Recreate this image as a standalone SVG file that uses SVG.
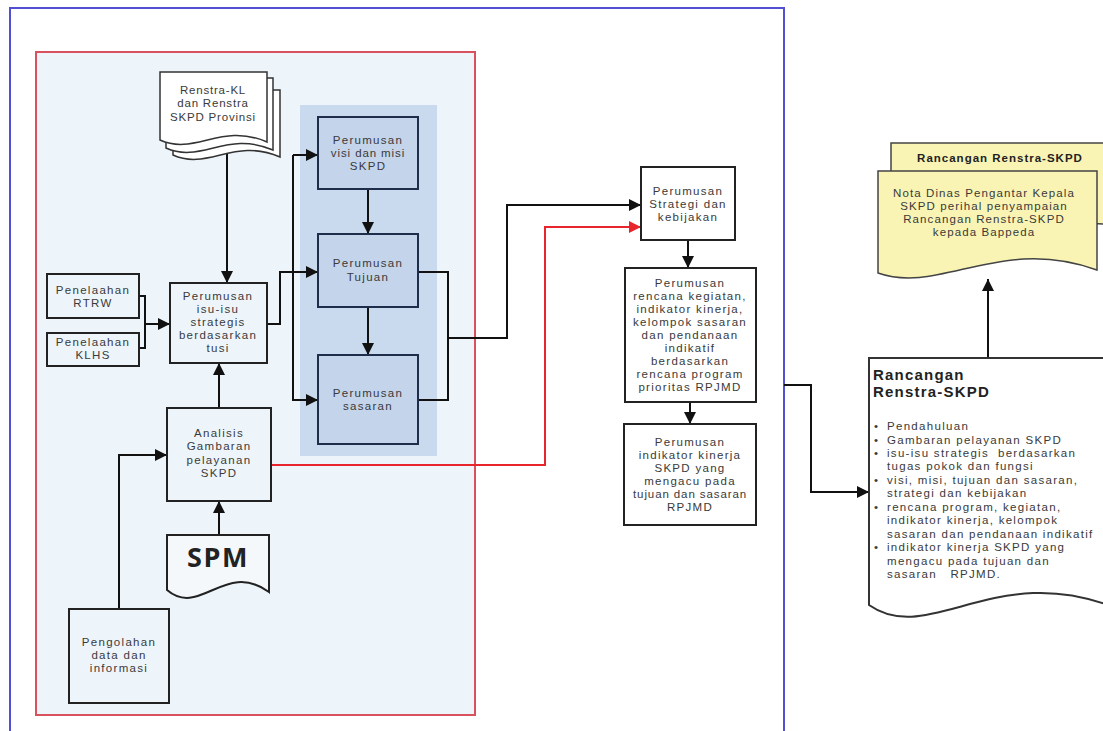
<svg xmlns="http://www.w3.org/2000/svg" width="1103" height="731" viewBox="0 0 1103 731">
<defs>
<style>
.box{fill:#eef5fa;stroke:#222;stroke-width:2}
.pbox{fill:#c4d4ea;stroke:#1e2d4a;stroke-width:2}
.wbox{fill:#fff;stroke:#222;stroke-width:2}
.doc{fill:#fff;stroke:#333;stroke-width:1.5}
.ydoc{fill:#f9f4b4;stroke:#444;stroke-width:1.5}
.t{font-family:"Liberation Sans",Arial,sans-serif;font-size:11.5px;fill:#3a3a3a;text-anchor:middle;letter-spacing:1.3px}
.l{font-family:"Liberation Sans",Arial,sans-serif;font-size:11.5px;fill:#3a3a3a;letter-spacing:1.3px}
.b{font-family:"Liberation Sans",Arial,sans-serif;font-weight:bold;fill:#222}
.c{fill:none;stroke:#111;stroke-width:2}
.r{fill:none;stroke:#e8242c;stroke-width:2}
</style>
<marker id="ah" viewBox="0 0 12 12" refX="12" refY="6" markerWidth="12" markerHeight="12" markerUnits="userSpaceOnUse" orient="auto"><path d="M0,0 L12,6 L0,12 z" fill="#111"/></marker>
<marker id="ahr" viewBox="0 0 12 12" refX="12" refY="6" markerWidth="12" markerHeight="12" markerUnits="userSpaceOnUse" orient="auto"><path d="M0,0 L12,6 L0,12 z" fill="#e8242c"/></marker>
</defs>
<rect width="1103" height="731" fill="#fff"/>
<g id="frames">
<rect x="10" y="8" width="774" height="745" fill="#fff" stroke="#5050d0" stroke-width="2"/>
<rect x="36" y="52" width="439" height="663" fill="#eef5fa" stroke="#d9505e" stroke-width="2"/>
<rect x="300" y="105" width="137" height="351" fill="#c9d9ee"/>
</g>
<g id="connectors">
<path class="c" d="M227,150 V283" marker-end="url(#ah)"/>
<path class="c" d="M139,296 H145 V348 H139 M145,324 H170" marker-end="url(#ah)"/>
<path class="c" d="M267,324 H280 V272 H318" marker-end="url(#ah)"/>
<path class="c" d="M293,155 H318" marker-end="url(#ah)"/>
<path class="c" d="M293,155 V400 H318" marker-end="url(#ah)"/>
<path class="c" d="M368,189 V234" marker-end="url(#ah)"/>
<path class="c" d="M368,307 V355" marker-end="url(#ah)"/>
<path class="c" d="M418,272 H448 V400 H418"/>
<path class="c" d="M448,338 H507 V205 H641" marker-end="url(#ah)"/>
<path class="r" d="M271,465 H545 V227 H641" marker-end="url(#ahr)"/>
<path class="c" d="M219,408 V363" marker-end="url(#ah)"/>
<path class="c" d="M219,535 V501" marker-end="url(#ah)"/>
<path class="c" d="M119,609 V455 H167" marker-end="url(#ah)"/>
<path class="c" d="M688,240 V268" marker-end="url(#ah)"/>
<path class="c" d="M690,402 V424" marker-end="url(#ah)"/>
<path class="c" d="M784,385 H811 V492 H869" marker-end="url(#ah)"/>
<path class="c" d="M988,358 V279" marker-end="url(#ah)"/>
</g>
<g id="renstra-kl">
<path class="doc" d="M173,90 H280 V157 C234,137 208,171 173,155 Z"/>
<path class="doc" d="M166,78 H273 V150 C227,130 201,164 166,148 Z"/>
<path class="doc" d="M160,72 H267 V142 C221,122 195,156 160,140 Z"/>
<text class="t" x="213" y="94" style="letter-spacing:0.8px">Renstra-KL</text>
<text class="t" x="213" y="107" style="letter-spacing:0.8px">dan Renstra</text>
<text class="t" x="213" y="121" style="letter-spacing:0.8px">SKPD Provinsi</text>
</g>
<g id="rtrw">
<rect class="box" x="47" y="274" width="92" height="44"/>
<text class="t" x="93" y="294">Penelaahan</text>
<text class="t" x="93" y="307">RTRW</text>
</g>
<g id="klhs">
<rect class="box" x="47" y="333" width="92" height="33"/>
<text class="t" x="93" y="346">Penelaahan</text>
<text class="t" x="93" y="359">KLHS</text>
</g>
<g id="isu">
<rect class="box" x="170" y="283" width="97" height="80"/>
<text class="t" x="218" y="300">Perumusan</text>
<text class="t" x="218" y="313">isu-isu</text>
<text class="t" x="218" y="326">strategis</text>
<text class="t" x="218" y="339">berdasarkan</text>
<text class="t" x="218" y="352">tusi</text>
</g>
<g id="visi">
<rect class="pbox" x="318" y="117" width="100" height="72"/>
<text class="t" x="368" y="144">Perumusan</text>
<text class="t" x="368" y="157" style="letter-spacing:0.9px">visi dan misi</text>
<text class="t" x="368" y="170">SKPD</text>
</g>
<g id="tujuan">
<rect class="pbox" x="318" y="234" width="100" height="73"/>
<text class="t" x="368" y="267">Perumusan</text>
<text class="t" x="368" y="281">Tujuan</text>
</g>
<g id="sasaran">
<rect class="pbox" x="318" y="355" width="100" height="89"/>
<text class="t" x="368" y="397">Perumusan</text>
<text class="t" x="368" y="410">sasaran</text>
</g>
<g id="analisis">
<rect class="box" x="167" y="408" width="104" height="93"/>
<text class="t" x="219" y="437">Analisis</text>
<text class="t" x="219" y="450">Gambaran</text>
<text class="t" x="219" y="464">pelayanan</text>
<text class="t" x="219" y="477">SKPD</text>
</g>
<g id="spm">
<path d="M167,535 H269 V592 C225,560 200,618 167,590 Z" fill="#f4f8fb" stroke="#222" stroke-width="2"/>
<text x="218" y="567" font-family="'Open Sans','Liberation Sans',sans-serif" font-weight="bold" fill="#222" font-size="27" text-anchor="middle" letter-spacing="1.5">SPM</text>
</g>
<g id="pengolahan">
<rect class="box" x="69" y="609" width="100" height="94"/>
<text class="t" x="119" y="646">Pengolahan</text>
<text class="t" x="119" y="659">data dan</text>
<text class="t" x="119" y="672">informasi</text>
</g>
<g id="strategi">
<rect class="wbox" x="641" y="167" width="94" height="73"/>
<text class="t" x="688" y="195">Perumusan</text>
<text class="t" x="688" y="208">Strategi dan</text>
<text class="t" x="688" y="221">kebijakan</text>
</g>
<g id="rencana">
<rect class="wbox" x="625" y="268" width="131" height="134"/>
<text class="t" x="690" y="287">Perumusan</text>
<text class="t" x="690" y="300">rencana kegiatan,</text>
<text class="t" x="690" y="313">indikator kinerja,</text>
<text class="t" x="690" y="326">kelompok sasaran</text>
<text class="t" x="690" y="339">dan pendanaan</text>
<text class="t" x="690" y="352">indikatif</text>
<text class="t" x="690" y="365">berdasarkan</text>
<text class="t" x="690" y="378">rencana program</text>
<text class="t" x="690" y="391">prioritas RPJMD</text>
</g>
<g id="indikator">
<rect class="wbox" x="624" y="424" width="132" height="101"/>
<text class="t" x="690" y="446">Perumusan</text>
<text class="t" x="690" y="459">indikator kinerja</text>
<text class="t" x="690" y="472">SKPD yang</text>
<text class="t" x="690" y="485">mengacu pada</text>
<text class="t" x="690" y="498" style="letter-spacing:0.9px">tujuan dan sasaran</text>
<text class="t" x="690" y="511">RPJMD</text>
</g>
<g id="nota">
<path class="ydoc" d="M891,143 H1125 V228 C1060,208 1000,262 891,242 Z"/>
<text class="b" x="1000" y="162" font-size="11.5" text-anchor="middle" letter-spacing="1">Rancangan Renstra-SKPD</text>
<path class="ydoc" d="M878,171 H1097 V270 C1000,235 940,295 878,273 Z"/>
<text class="t" x="984" y="197" style="letter-spacing:1.1px">Nota Dinas Pengantar Kepala</text>
<text class="t" x="984" y="210" style="letter-spacing:1.1px">SKPD perihal penyampaian</text>
<text class="t" x="984" y="223" style="letter-spacing:1.1px">Rancangan Renstra-SKPD</text>
<text class="t" x="984" y="236" style="letter-spacing:1.1px">kepada Bappeda</text>
</g>
<g id="rancangan">
<path d="M869,358 H1125 V612 C1000,555 930,648 869,605 Z" fill="#fff" stroke="#333" stroke-width="2"/>
<text class="b" x="873" y="380" font-size="15" letter-spacing="1.2">Rancangan</text>
<text class="b" x="873" y="397" font-size="15" letter-spacing="1.2">Renstra-SKPD</text>
<g class="l">
<text x="874" y="430">•</text><text x="887" y="430">Pendahuluan</text>
<text x="874" y="443.5">•</text><text x="887" y="443.5">Gambaran pelayanan SKPD</text>
<text x="874" y="457">•</text><text x="887" y="457" xml:space="preserve">isu-isu strategis  berdasarkan</text>
<text x="887" y="470.4">tugas pokok dan fungsi</text>
<text x="874" y="483.8">•</text><text x="887" y="483.8">visi, misi, tujuan dan sasaran,</text>
<text x="887" y="497.3">strategi dan kebijakan</text>
<text x="874" y="510.7">•</text><text x="887" y="510.7">rencana program, kegiatan,</text>
<text x="887" y="524.2">indikator kinerja, kelompok</text>
<text x="887" y="537.6">sasaran dan pendanaan indikatif</text>
<text x="874" y="551.1">•</text><text x="887" y="551.1">indikator kinerja SKPD yang</text>
<text x="887" y="564.5">mengacu pada tujuan dan</text>
<text x="887" y="578" xml:space="preserve">sasaran   RPJMD.</text>
</g>
</g>
</svg>
